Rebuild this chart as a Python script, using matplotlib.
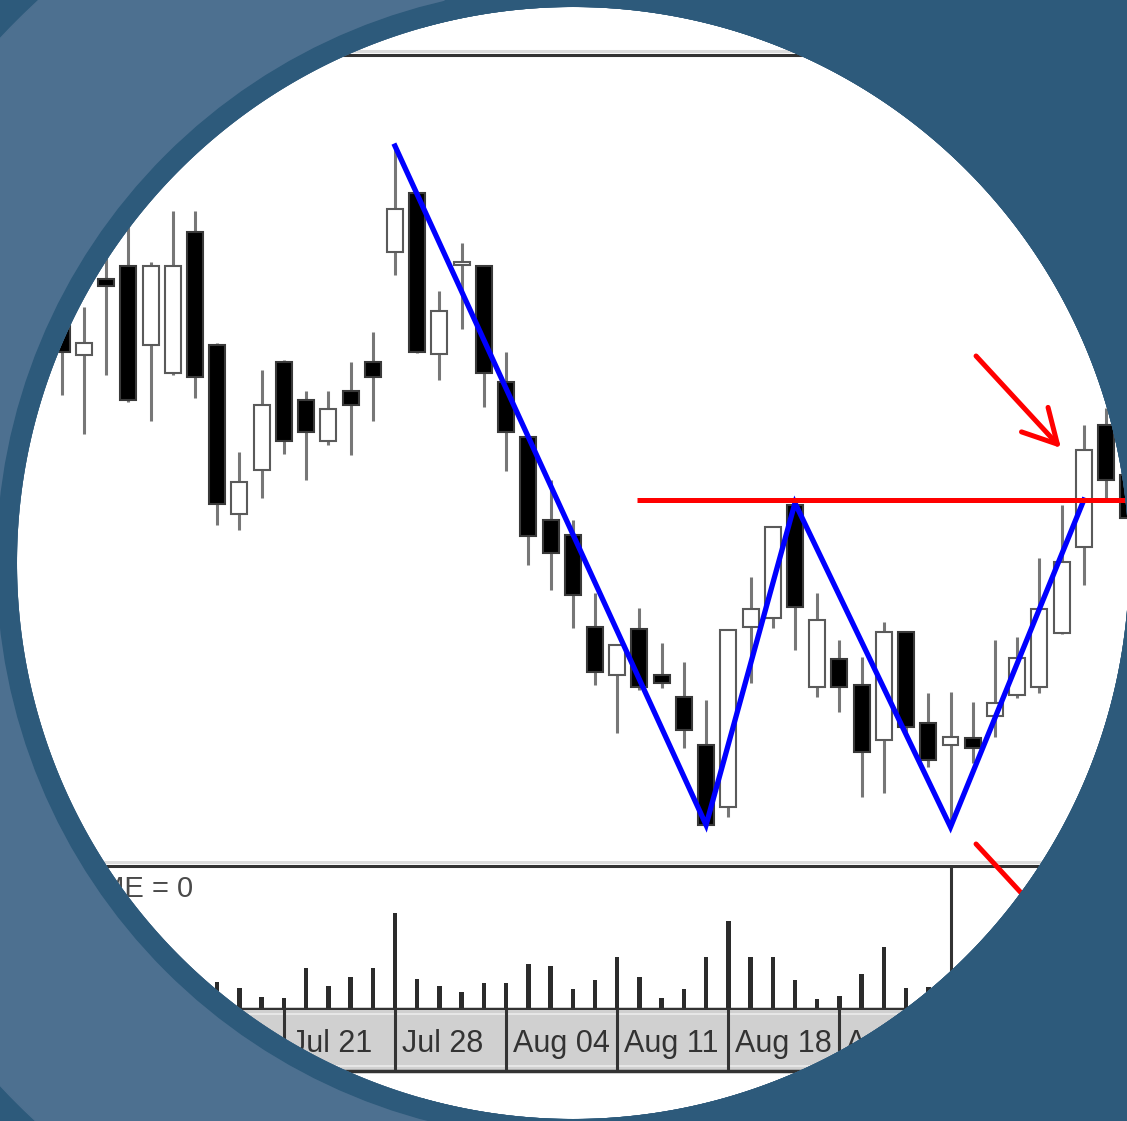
import numpy as np
import matplotlib
matplotlib.use('Agg')
import matplotlib.pyplot as plt
from matplotlib.patches import Circle, Rectangle, PathPatch
from matplotlib.path import Path
from matplotlib.lines import Line2D

plt.rcParams['font.family'] = ['Liberation Sans', 'DejaVu Sans']

# --- DATA ---
bar_idx = list(range(1, 50))
opens = [23.90, 22.90, 24.42, 24.68, 23.10, 22.54, 25.36, 23.10, 19.72, 20.60,
         22.76, 22.00, 21.18, 22.18, 22.76, 24.96, 26.14, 22.92, 24.70, 24.68,
         22.36, 21.26, 19.60, 19.30, 17.46, 16.50, 17.42, 16.50, 16.06, 15.10,
         13.86, 17.46, 17.64, 19.90, 16.26, 16.82, 16.30, 15.20, 17.36, 15.54,
         15.10, 15.24, 15.68, 16.10, 16.26, 17.34, 19.06, 21.50, 20.50]
highs = [24.20, 23.86, 24.90, 25.56, 24.76, 25.78, 25.78, 23.14, 20.96, 22.60,
         22.80, 22.18, 22.18, 22.76, 23.36, 27.08, 26.16, 24.18, 25.14, 24.70,
         22.96, 21.28, 20.40, 19.60, 18.14, 17.12, 17.84, 17.14, 16.76, 16.00,
         17.42, 18.46, 19.48, 19.96, 18.14, 17.20, 16.86, 17.56, 17.38, 16.14,
         16.16, 15.96, 17.20, 17.26, 18.84, 19.90, 21.50, 21.84, 20.80]
lows = [22.10, 21.32, 22.50, 21.96, 21.58, 22.50, 22.04, 19.50, 19.40, 20.04,
        20.92, 20.40, 21.10, 20.90, 21.58, 24.50, 22.94, 22.40, 23.42, 21.86,
        20.58, 18.70, 18.20, 17.44, 16.30, 15.34, 16.20, 16.24, 15.04, 13.48,
        13.66, 16.34, 17.44, 17.00, 16.06, 15.76, 14.06, 14.14, 15.30, 14.66,
        13.46, 14.74, 15.26, 16.04, 16.14, 17.32, 18.30, 20.04, 19.40]
closes = [22.96, 23.14, 24.28, 22.00, 24.68, 24.68, 22.46, 19.92, 20.36, 21.90,
          21.18, 21.36, 21.82, 21.90, 22.46, 25.82, 22.96, 23.78, 24.74, 22.54,
          21.36, 19.28, 18.94, 18.10, 16.56, 17.10, 16.26, 16.34, 15.40, 13.50,
          17.40, 17.82, 19.46, 17.86, 17.60, 16.26, 14.96, 17.36, 15.46, 14.80,
          15.26, 15.04, 15.94, 16.84, 17.82, 18.76, 21.00, 20.40, 19.64]
volume = [2.6, 3.1, 2.2, 3.5, 2.8, 1.9, 2.4, 2.7, 2.1, 1.2,
          1.1, 4.1, 2.3, 3.2, 4.1, 9.6, 3.0, 2.3, 1.7, 2.6,
          2.6, 4.5, 4.3, 2.0, 2.9, 5.2, 3.2, 1.1, 2.0, 5.2,
          8.8, 5.2, 5.2, 2.9, 1.0, 1.3, 3.5, 6.2, 2.1, 2.2,
          3.0, 2.5, 2.8, 3.3, 4.0, 4.6, 6.5, 5.1, 3.9]

week_sep = [6, 11, 16, 21, 26, 31, 36, 41, 46]
week_labels = ['Jul 14', 'Jul 21', 'Jul 28', 'Aug 04', 'Aug 11', 'Aug 18',
               'Aug 25', 'Sep 01', 'Sep 08']

# double bottom zigzag + neckline
zigzag_idx = [16, 30, 34, 41, 47]
zigzag_price = [27.08, 13.50, 19.94, 13.46, 20.00]
neckline = 20.00
neck_start = 26.9
volume_cursor = 41

# --- STYLE ---
DARK = '#2d5a7b'
LIGHT = '#4d7090'
W, H = 1127, 1121


def px_box(left, top, right, bottom):
    return [left / W, 1 - bottom / H, (right - left) / W, (bottom - top) / H]


def n_at(px):
    # bar index at a given pixel column (bar 16 sits at x=395, 22.22 px per bar)
    return 16 + (px - 395) / 22.22


fig = plt.figure(figsize=(W / 100, H / 100), dpi=100)
fig.patch.set_facecolor('white')

x_left, x_right = -100, 1240
ax = fig.add_axes(px_box(x_left, 55, x_right, 864), zorder=3)
ax_vol = fig.add_axes(px_box(x_left, 866, x_right, 1009))
ax_date = fig.add_axes(px_box(x_left, 1010, x_right, 1071))
for a in (ax, ax_vol, ax_date):
    a.set_xlim(n_at(x_left), n_at(x_right))
    a.set_xticks([])
    a.set_yticks([])
    for s in a.spines.values():
        s.set_visible(False)
ax.set_facecolor('none')
ax_vol.set_facecolor('none')

# --- price panel ---
ax.set_ylim(30 - 864 / 50, 30 - 55 / 50)
ax.spines['top'].set_visible(True)
ax.spines['top'].set_color('#333333')
ax.spines['top'].set_linewidth(2.2)

x = np.array(bar_idx)
o = np.array(opens)
c = np.array(closes)
up = c >= o
ax.vlines(x, lows, highs, color='#777777', lw=2.2, zorder=2)
body_bottom = np.minimum(o, c)
body_h = np.maximum(np.abs(c - o), 0.05)
ax.bar(x[up], body_h[up], bottom=body_bottom[up], width=0.72, color='white',
       edgecolor='#5a5a5a', linewidth=1.5, zorder=3)
ax.bar(x[~up], body_h[~up], bottom=body_bottom[~up], width=0.72, color='black',
       edgecolor='#3a3a3a', linewidth=1.5, zorder=3)

ax.plot(zigzag_idx, zigzag_price, color='#0000ff', lw=3.8,
        solid_joinstyle='miter', zorder=5)
ax.hlines(neckline, neck_start, n_at(x_right), color='#ff0000', lw=3.6, zorder=6)

ax.annotate('', xy=(45.97, 21.04), xytext=(42.15, 22.88), annotation_clip=False,
            arrowprops=dict(arrowstyle='->,head_length=24,head_width=13',
                            mutation_scale=1, color='#ff0000', lw=3.6,
                            shrinkA=0, shrinkB=0), zorder=6)
ax.annotate('', xy=(45.97, 11.28), xytext=(42.15, 13.12), annotation_clip=False,
            arrowprops=dict(arrowstyle='-', color='#ff0000', lw=3.6,
                            shrinkA=0, shrinkB=0), zorder=6)

# --- volume panel ---
ax_vol.set_ylim(0, (1009 - 866) / 10)
ax_vol.bar(x, volume, width=0.2, color='#2b2b2b', zorder=2)
ax_vol.axvline(volume_cursor, color='#333333', lw=2.2)
for side, lw in (('top', 2.2), ('bottom', 2.5)):
    ax_vol.spines[side].set_visible(True)
    ax_vol.spines[side].set_color('#333333')
    ax_vol.spines[side].set_linewidth(lw)
ax_vol.text(n_at(193), 0.783, 'VOLUME = 0', transform=ax_vol.get_xaxis_transform(),
            ha='right', va='baseline', fontsize=21, color='#4a4a4a')

# --- date strip ---
ax_date.set_facecolor('#d0d0d0')
ax_date.set_ylim(0, 1)
ax_date.spines['bottom'].set_visible(True)
ax_date.spines['bottom'].set_color('#333333')
ax_date.spines['bottom'].set_linewidth(2.5)
ax_date.axhline(0.93, color='#e6e6e6', lw=1.5)
ax_date.axhline(0.08, color='#e6e6e6', lw=1.5)
for s, lab in zip(week_sep, week_labels):
    ax_date.axvline(s, color='#333333', lw=2.2)
    ax_date.text(s + 0.3, 0.31, lab, ha='left', va='baseline', fontsize=22,
                 color='#333333')

# light rules above the dark borders
for y in (51, 862):
    fig.add_artist(Line2D([0, 1], [1 - y / H] * 2, transform=fig.transFigure,
                          color='#dcdcdc', lw=2.2, zorder=1))

# --- circular frame overlay ---
ov = fig.add_axes([0, 0, 1, 1], zorder=10)
ov.set_xlim(0, W)
ov.set_ylim(H, 0)
ov.set_facecolor('none')
ov.axis('off')

theta = np.linspace(0, -2 * np.pi, 721)
disc = np.column_stack([573 + 556 * np.cos(theta), 563 + 556 * np.sin(theta)])
outer = np.array([(-20, -20), (W + 20, -20), (W + 20, H + 20), (-20, H + 20), (-20, -20)])
verts = np.concatenate([outer, disc])
codes = ([Path.MOVETO] + [Path.LINETO] * 3 + [Path.CLOSEPOLY]
         + [Path.MOVETO] + [Path.LINETO] * (len(disc) - 2) + [Path.CLOSEPOLY])
hole = PathPatch(Path(verts, codes), transform=ov.transData)

layers = [Rectangle((-20, -20), W + 40, H + 40, color=DARK),
          Circle((558, 562), 765, color=LIGHT),
          Circle((1100, 563), 863, color=DARK),
          Circle((573, 563), 576, color=DARK)]
for p in layers:
    ov.add_patch(p)
    p.set_clip_path(hole)

fig.savefig('out.png', dpi=100)
